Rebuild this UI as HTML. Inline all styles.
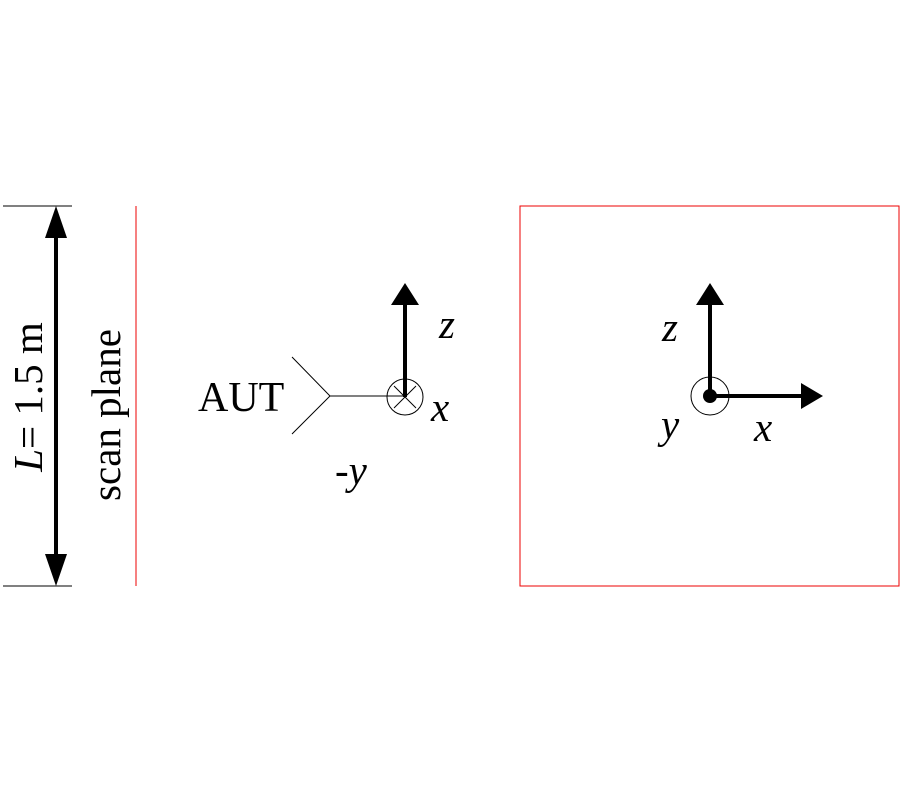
<!DOCTYPE html>
<html><head><style>body{margin:0;background:#fff}svg{display:block}</style></head><body>
<svg width="900" height="800" xmlns="http://www.w3.org/2000/svg" font-family="Liberation Serif, serif">
<line x1="3" y1="206" x2="72" y2="206" stroke="#000" stroke-width="1"/>
<line x1="3" y1="586" x2="72" y2="586" stroke="#000" stroke-width="1"/>
<line x1="56" y1="230" x2="56" y2="562" stroke="#000" stroke-width="4"/>
<polygon points="56,206 45,238 67,238" fill="#000"/>
<polygon points="56,586 45,554 67,554" fill="#000"/>
<text transform="translate(42,397) rotate(-90)" text-anchor="middle" font-size="41"><tspan font-style="italic">L</tspan>= 1.5 m</text>
<text transform="translate(120,415) rotate(-90)" text-anchor="middle" font-size="41">scan plane</text>
<line x1="136" y1="206" x2="136" y2="586" stroke="#e00" stroke-width="1"/>
<text x="198" y="411" font-size="42">AUT</text>
<polyline points="292,357 330,396 292,434" fill="none" stroke="#000" stroke-width="1"/>
<line x1="330" y1="396" x2="405" y2="396" stroke="#000" stroke-width="1"/>
<circle cx="405" cy="397" r="18" fill="none" stroke="#000" stroke-width="1"/>
<line x1="394" y1="386" x2="416" y2="408" stroke="#000" stroke-width="1"/>
<line x1="416" y1="386" x2="394" y2="408" stroke="#000" stroke-width="1"/>
<line x1="405" y1="397" x2="405" y2="300" stroke="#000" stroke-width="4"/>
<polygon points="405,283 391,305 419,305" fill="#000"/>
<text x="439" y="338" font-size="41" font-style="italic">z</text>
<text x="431" y="421" font-size="41" font-style="italic">x</text>
<text x="335" y="484" font-size="41" font-style="italic">-y</text>
<rect x="520" y="206" width="379" height="380" fill="none" stroke="#e00" stroke-width="1"/>
<line x1="710" y1="396" x2="710" y2="300" stroke="#000" stroke-width="4"/>
<polygon points="710,283 696,305 724,305" fill="#000"/>
<line x1="710" y1="396" x2="805" y2="396" stroke="#000" stroke-width="4"/>
<polygon points="823,396 801,383 801,409" fill="#000"/>
<circle cx="710" cy="396" r="19" fill="none" stroke="#000" stroke-width="1"/>
<circle cx="710" cy="396" r="7" fill="#000"/>
<text x="662" y="341" font-size="41" font-style="italic">z</text>
<text x="661" y="438" font-size="41" font-style="italic">y</text>
<text x="754" y="441" font-size="41" font-style="italic">x</text>
</svg>
</body></html>
